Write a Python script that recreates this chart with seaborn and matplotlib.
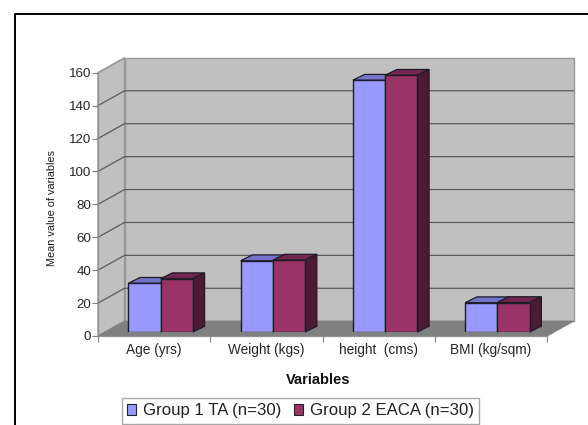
import matplotlib
matplotlib.use("Agg")
import matplotlib.pyplot as plt
from matplotlib.patches import Polygon, Rectangle
from matplotlib.lines import Line2D
import pandas as pd
import seaborn as sns

categories = ["Age (yrs)", "Weight (kgs)", "height  (cms)", "BMI (kg/sqm)"]
group1_ta = [29.6, 43.3, 153, 17.8]
group2_eaca = [32.4, 43.7, 156, 17.9]
group_names = ["Group 1 TA (n=30)", "Group 2 EACA (n=30)"]
y_ticks = [0, 20, 40, 60, 80, 100, 120, 140, 160]

W, H = 588, 425
FACE = ["#9999FF", "#993366"]
TOP = ["#7373C8", "#732650"]
SIDE = ["#4D4D80", "#4D1A33"]
EDGE = "#1c1c26"

sns.set_theme(style="white")
plt.rcParams["font.family"] = ["Liberation Sans", "DejaVu Sans"]

df = pd.DataFrame({
    "Variable": categories * 2,
    "Mean": group1_ta + group2_eaca,
    "Group": [group_names[0]] * 4 + [group_names[1]] * 4,
})

fig = plt.figure(figsize=(W / 100, H / 100), dpi=100, facecolor="white")


def box(x0, x1, ytop, ybot):
    return [x0 / W, 1 - ybot / H, (x1 - x0) / W, (ybot - ytop) / H]


AX_L, AX_R, AX_T, AX_B = 98, 547, 72.7, 336
ax = fig.add_axes(box(AX_L, AX_R, AX_T, AX_B), facecolor="none")
# bars stand a little way into the floor
BAR_DX, BAR_DY = 6.5, 4
ax_bars = fig.add_axes(box(AX_L + BAR_DX, AX_R + BAR_DX, AX_T - BAR_DY, AX_B - BAR_DY),
                       facecolor="none")

sns.barplot(data=df, x="Variable", y="Mean", hue="Group", hue_order=group_names,
            order=categories, palette=FACE, width=0.575, gap=0, saturation=1,
            edgecolor=EDGE, linewidth=1.0, legend=False, ax=ax_bars, zorder=3)
ax_bars.set_xlim(-0.5, 3.5)
ax_bars.set_ylim(0, 160)
ax_bars.axis("off")

px_x = (AX_R - AX_L) / 4
px_y = (AX_B - AX_T) / 160

# 3D depth of each bar
depth_x, depth_y = 11.7 / px_x, 5.8 / px_y
n_cat = len(categories)
for i, p in enumerate(ax_bars.patches[:2 * n_cat]):
    g = i // n_cat
    x0, w, h = p.get_x(), p.get_width(), p.get_height()
    x1 = x0 + w
    top = [(x0, h), (x1, h), (x1 + depth_x, h + depth_y), (x0 + depth_x, h + depth_y)]
    side = [(x1, 0), (x1 + depth_x, depth_y), (x1 + depth_x, h + depth_y), (x1, h)]
    z = 2 + g * 0.1
    for pts, col in ((top, TOP[g]), (side, SIDE[g])):
        ax_bars.add_patch(Polygon(pts, closed=True, facecolor=col, edgecolor=EDGE,
                                  linewidth=0.9, zorder=z, clip_on=False))

# walls and floor
ax.set_xlim(-0.5, 3.5)
ax.set_ylim(0, 160)
wall_x, wall_y = 26.5 / px_x, 14.8 / px_y
xa, xb = -0.5, 3.5
wall_col, wall_edge, grid_col = "#C0C0C0", "#989898", "#5a5a5a"
ymax = y_ticks[-1]
ax.add_patch(Polygon([(xa + wall_x, wall_y), (xb + wall_x, wall_y), (xb + wall_x, ymax + wall_y),
                      (xa + wall_x, ymax + wall_y)], facecolor=wall_col, edgecolor=wall_edge,
                     linewidth=1, clip_on=False, zorder=0))
ax.add_patch(Polygon([(xa, 0), (xa + wall_x, wall_y), (xa + wall_x, ymax + wall_y), (xa, ymax)],
                     facecolor=wall_col, edgecolor=wall_edge, linewidth=1, clip_on=False, zorder=0))
ax.add_patch(Polygon([(xa, 0), (xb, 0), (xb + wall_x, wall_y), (xa + wall_x, wall_y)],
                     facecolor="#808080", edgecolor="#808080", linewidth=0.8, clip_on=False, zorder=0.5))
for v in y_ticks[1:-1]:
    ax.plot([xa, xa + wall_x, xb + wall_x], [v, v + wall_y, v + wall_y], color=grid_col,
            lw=0.9, clip_on=False, zorder=0.6)
ax.plot([xa, xa + wall_x], [ymax, ymax + wall_y], color=wall_edge, lw=0.9, clip_on=False, zorder=0.6)

ax.set_yticks(y_ticks)
ax.set_xticks(range(n_cat))
ax.set_xticklabels(categories)
ax.set_xticks([-0.5, 0.5, 1.5, 2.5, 3.5], minor=True)
ax.tick_params(axis="x", which="major", length=0, pad=5, labelsize=9.8, labelcolor="#262626")
ax.tick_params(axis="x", which="minor", bottom=True, length=4, width=0.8, color="#808080")
ax.tick_params(axis="y", left=True, length=4.5, width=0.8, color="#808080", pad=0.5,
               labelsize=9.6, labelcolor="#262626")
for s in ("top", "right"):
    ax.spines[s].set_visible(False)
for s in ("left", "bottom"):
    ax.spines[s].set_color("#909090")
    ax.spines[s].set_linewidth(0.9)
ax.set_xlabel("Variables", fontsize=10.5, fontweight="bold", color="#111111", va="center")
ax.xaxis.set_label_coords((318.5 - AX_L) / (AX_R - AX_L), (AX_B - 380) / (AX_B - AX_T))
ax.set_ylabel("Mean value of variables", fontsize=7.8, color="#1a1a1a", va="center")
ax.yaxis.set_label_coords((52 - AX_L) / (AX_R - AX_L), (AX_B - 208.5) / (AX_B - AX_T))

# legend
handles = [Rectangle((0, 0), 1, 1, facecolor=FACE[i], edgecolor="#222222", linewidth=0.8)
           for i in range(2)]
fig.legend(handles, group_names, loc="center", bbox_to_anchor=(300.4 / W, 1 - 411 / H),
           ncol=2, fontsize=12.1, frameon=True, fancybox=False, edgecolor="#a8a8a8",
           framealpha=1, labelcolor="#222222", handlelength=0.55, handleheight=0.55,
           handletextpad=0.4, columnspacing=0.75, borderpad=0.3, borderaxespad=0)

# outer chart border
fig.add_artist(Line2D([15 / W, 15 / W, 1], [0, 1 - 14 / H, 1 - 14 / H], color="black", lw=1.4))

fig.savefig("out.png", dpi=100)
